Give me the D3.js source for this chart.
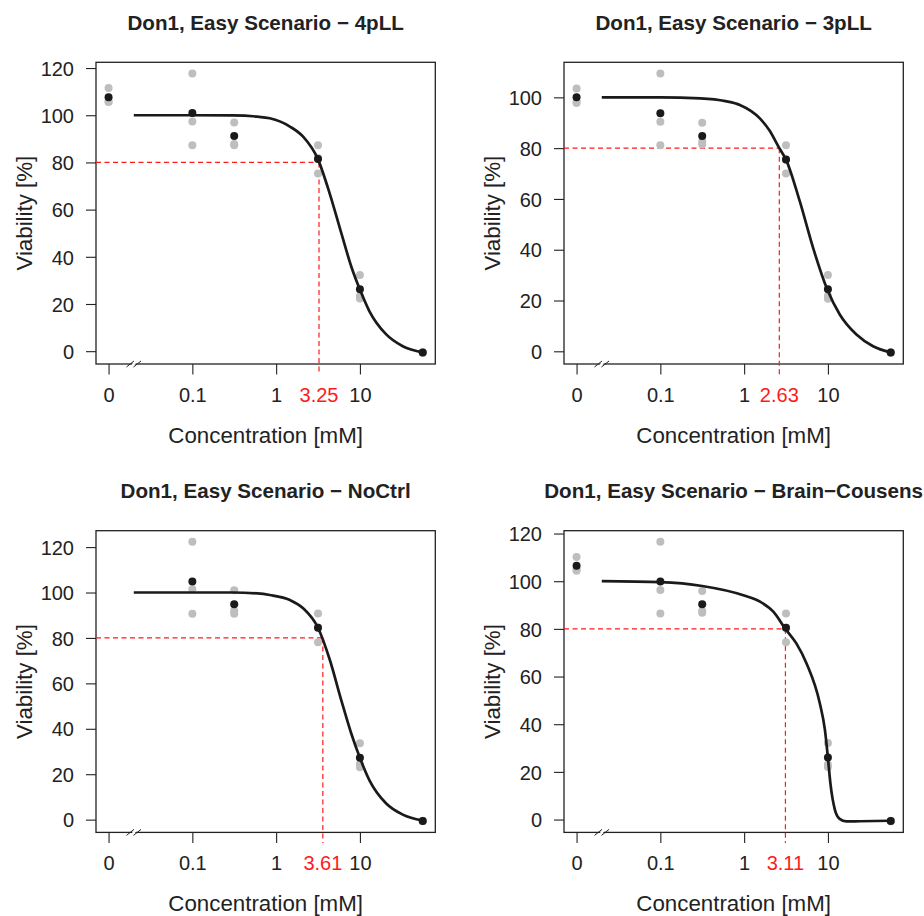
<!DOCTYPE html>
<html>
<head>
<meta charset="utf-8">
<script src="https://cdn.jsdelivr.net/npm/d3@7"></script>
<style>
  body { margin: 0; background: #fff; }
  text { font-family: "Liberation Sans", Arial, sans-serif; }
</style>
</head>
<body>
<div id="chart"></div>
<script>
// doses in mM, 0 = control (drawn at 0.01 on the log axis)
var doses = [0, 0.1, 0.316, 3.16, 10, 56.2];
var zeroAt = 0.01;
var breakAt = 0.02;
var xTicks = [0.01, 0.1, 1, 10];
var xTickLabels = ["0", "0.1", "1", "10"];
var yTicks = [0, 20, 40, 60, 80, 100, 120];
var cutoff = 80;

var titles = ["Don1, Easy Scenario \u2212 4pLL", "Don1, Easy Scenario \u2212 3pLL",
              "Don1, Easy Scenario \u2212 NoCtrl", "Don1, Easy Scenario \u2212 Brain\u2212Cousens"];
var ed20 = [3.25, 2.63, 3.61, 3.11];
var edLabels = ["3.25", "2.63", "3.61", "3.11"];

// replicates (grey) and means (black), one entry per dose
var reps4pLL = [[111.5, 105.6, 105.8], [117.7, 97.3, 87.3], [96.9, 87.8, 87.3], [87.3, 75.3, 81.9], [32.3, 23.4, 22.3], [-0.5, -0.6, -0.7]];
var means4pLL = [107.6, 101.0, 91.2, 81.5, 26.2, -0.6];
var reps3pLL = [[103.5, 98.4, 97.8], [109.4, 90.4, 81.1], [90.0, 82.6, 81.4], [81.1, 70.0, 75.4], [30.0, 21.8, 20.7], [-0.4, -0.5, -0.6]];
var means3pLL = [100.0, 93.7, 84.8, 75.5, 24.4, -0.5];
var repsNoCtrl = [[], [122.3, 101.4, 90.7], [101.0, 92.0, 90.7], [90.8, 78.1, 84.6], [33.6, 24.5, 23.1], [-0.5, -0.6, -0.7]];
var meansNoCtrl = [null, 104.9, 94.8, 84.5, 27.3, -0.6];
var repsBC = [[110.2, 104.9, 104.4], [116.5, 96.3, 86.4], [95.9, 87.5, 86.8], [86.5, 74.4, 80.5], [32.1, 23.0, 22.0], [-0.5, -0.6, -0.7]];
var meansBC = [106.5, 99.9, 90.3, 80.5, 26.0, -0.6];

// fitted curves: [dose, viability]
var curve4pLL = [[0.02, 100], [0.1, 100], [0.3, 99.9], [0.6, 99.4], [0.84, 98.7], [1.46, 95.2], [2.1, 90.9], [3.16, 81.3],
                 [4.36, 66.8], [6.0, 50.0], [7.9, 35.8], [10, 26.1], [13, 16.9], [20.6, 7.1], [32.5, 2.1], [56, -0.5]];
var curve3pLL = [[0.02, 100], [0.1, 100], [0.3, 99.6], [0.6, 98.5], [0.89, 97.0], [1.54, 91.7], [2.0, 87.0], [2.63, 80],
                 [3.15, 75.6], [4.62, 59.0], [6.67, 40.6], [9.8, 24.4], [13.9, 14.4], [21.9, 6.6], [34.6, 2.0], [56, -0.4]];
var curveNoCtrl = [[0.02, 100], [0.1, 100], [0.3, 100], [0.6, 99.6], [0.84, 98.9], [1.46, 96.7], [2.1, 93.1], [3.16, 84.5],
                   [4.36, 70.5], [6.0, 52.5], [7.9, 37.8], [10, 27.2], [13, 17.3], [20.6, 7.1], [32.5, 2.2], [56, -0.4]];
var curveBC = [[0.02, 100], [0.1, 99.6], [0.316, 98.0], [1.0, 94.0], [1.55, 91.4], [2.23, 87.2], [3.11, 80], [4.2, 73.9],
               [5.56, 65.5], [8.0, 48.8], [9.2, 37.7], [10, 26.0], [10.7, 15.3], [12.1, 4.2], [13.8, 0.3], [16.6, -0.8],
               [24, -0.7], [56, -0.5]];

var panels = [
  { reps: reps4pLL, means: means4pLL, curve: curve4pLL },
  { reps: reps3pLL, means: means3pLL, curve: curve3pLL },
  { reps: repsNoCtrl, means: meansNoCtrl, curve: curveNoCtrl },
  { reps: repsBC, means: meansBC, curve: curveBC }
];

var width = 924, height = 916;
var lefts = [96, 564], tops = [62.3, 530.7];
var boxW = 339.3, boxH = 301.7;
var ink = "#222", red = "#ff1a1a";

var svg = d3.select("#chart").append("svg")
  .attr("width", width)
  .attr("height", height);

panels.forEach(function(p, i) {
  var left = lefts[i % 2], top = tops[Math.floor(i / 2)];
  var bottom = top + boxH;
  var g = svg.append("g");

  // R-style axis limits: data range plus 4% each side
  var lo = Math.log10(zeroAt), hi = Math.log10(d3.max(doses));
  var padX = (hi - lo) * 0.04;
  var x = d3.scaleLog()
    .domain([Math.pow(10, lo - padX), Math.pow(10, hi + padX)])
    .range([left, left + boxW]);
  var allY = d3.merge(p.reps).concat(p.means.filter(function(v) { return v != null; }));
  var yMin = d3.min(allY), yMax = d3.max(allY), padY = (yMax - yMin) * 0.04;
  var y = d3.scaleLinear()
    .domain([yMin - padY, yMax + padY])
    .range([bottom, top]);
  var xd = function(d) { return x(d === 0 ? zeroAt : d); };

  // title
  g.append("text")
    .attr("x", left + boxW / 2)
    .attr("y", top - 32.7)
    .attr("text-anchor", "middle")
    .style("font-size", "20.6px")
    .style("font-weight", "bold")
    .style("fill", ink)
    .text(titles[i]);

  // y axis
  var yAxis = g.append("g")
    .attr("transform", "translate(" + left + ",0)")
    .call(d3.axisLeft(y)
      .tickValues(yTicks.filter(function(t) { return t <= y.domain()[1]; }))
      .tickSize(10).tickPadding(12));
  yAxis.select(".domain").remove();
  yAxis.selectAll("line").attr("stroke", ink).attr("stroke-width", 1.1);
  yAxis.selectAll("text").style("font-size", "20px").style("font-family", "Liberation Sans, Arial, sans-serif")
    .attr("fill", ink).attr("dy", "0.36em");

  // x axis
  var xAxis = g.append("g")
    .attr("transform", "translate(0," + bottom + ")")
    .call(d3.axisBottom(x)
      .tickValues(xTicks)
      .tickFormat(function(d, k) { return xTickLabels[k]; })
      .tickSize(10.5).tickPadding(13.3));
  xAxis.select(".domain").remove();
  xAxis.selectAll("line").attr("stroke", ink).attr("stroke-width", 1.1);
  xAxis.selectAll("text").style("font-size", "20px").style("font-family", "Liberation Sans, Arial, sans-serif")
    .attr("fill", ink);

  // box
  g.append("rect")
    .attr("x", left).attr("y", top)
    .attr("width", boxW).attr("height", boxH)
    .attr("fill", "none")
    .attr("stroke", ink)
    .attr("stroke-width", 1.3);

  // axis break "//"
  var bx = x(breakAt);
  g.append("polygon")
    .attr("points", [[bx - 3.5, bottom + 3], [bx + 0.5, bottom - 3], [bx + 3.5, bottom - 3], [bx - 0.5, bottom + 3]].join(" "))
    .attr("fill", "#fff");
  [-3.8, 3.2].forEach(function(o) {
    g.append("line")
      .attr("x1", bx + o - 3.5).attr("y1", bottom + 3)
      .attr("x2", bx + o + 4).attr("y2", bottom - 3)
      .attr("stroke", ink).attr("stroke-width", 1);
  });

  // ED20 guide lines
  var ex = x(ed20[i]), ey = y(cutoff);
  g.append("line")
    .attr("x1", left).attr("y1", ey).attr("x2", ex).attr("y2", ey)
    .attr("stroke", red).attr("stroke-width", 1.2).attr("stroke-dasharray", "5,3.5");
  g.append("line")
    .attr("x1", ex).attr("y1", ey).attr("x2", ex).attr("y2", bottom + 10.5)
    .attr("stroke", red).attr("stroke-width", 1.2).attr("stroke-dasharray", "5,3.5");
  g.append("text")
    .attr("x", ex).attr("y", bottom + 37.5)
    .attr("text-anchor", "middle")
    .style("font-size", "20px")
    .style("fill", red)
    .text(edLabels[i]);

  // replicate points
  var repPts = [];
  p.reps.forEach(function(vals, k) {
    vals.forEach(function(v) { repPts.push([doses[k], v]); });
  });
  g.selectAll(".rep")
    .data(repPts)
    .enter()
    .append("circle")
      .attr("class", "rep")
      .attr("cx", function(d) { return xd(d[0]); })
      .attr("cy", function(d) { return y(d[1]); })
      .attr("r", 4)
      .attr("fill", "#bebebe");

  // means
  g.selectAll(".mean")
    .data(doses.map(function(d, k) { return [d, p.means[k]]; }).filter(function(d) { return d[1] != null; }))
    .enter()
    .append("circle")
      .attr("class", "mean")
      .attr("cx", function(d) { return xd(d[0]); })
      .attr("cy", function(d) { return y(d[1]); })
      .attr("r", 4)
      .attr("fill", "#1a1a1a");

  // fitted curve
  var line = d3.line()
    .x(function(d) { return x(d[0]); })
    .y(function(d) { return y(d[1]); })
    .curve(d3.curveMonotoneX);
  g.append("path")
    .datum(p.curve)
    .attr("d", line)
    .attr("fill", "none")
    .attr("stroke", "#1a1a1a")
    .attr("stroke-width", 2.7);

  // axis titles
  g.append("text")
    .attr("x", left + boxW / 2)
    .attr("y", bottom + 78.8)
    .attr("text-anchor", "middle")
    .style("font-size", "22.3px")
    .style("fill", ink)
    .text("Concentration [mM]");
  g.append("text")
    .attr("transform", "translate(" + (left - 64.5) + "," + (top + boxH / 2) + ") rotate(-90)")
    .attr("text-anchor", "middle")
    .style("font-size", "22.3px")
    .style("fill", ink)
    .text("Viability [%]");
});
</script>
</body>
</html>
